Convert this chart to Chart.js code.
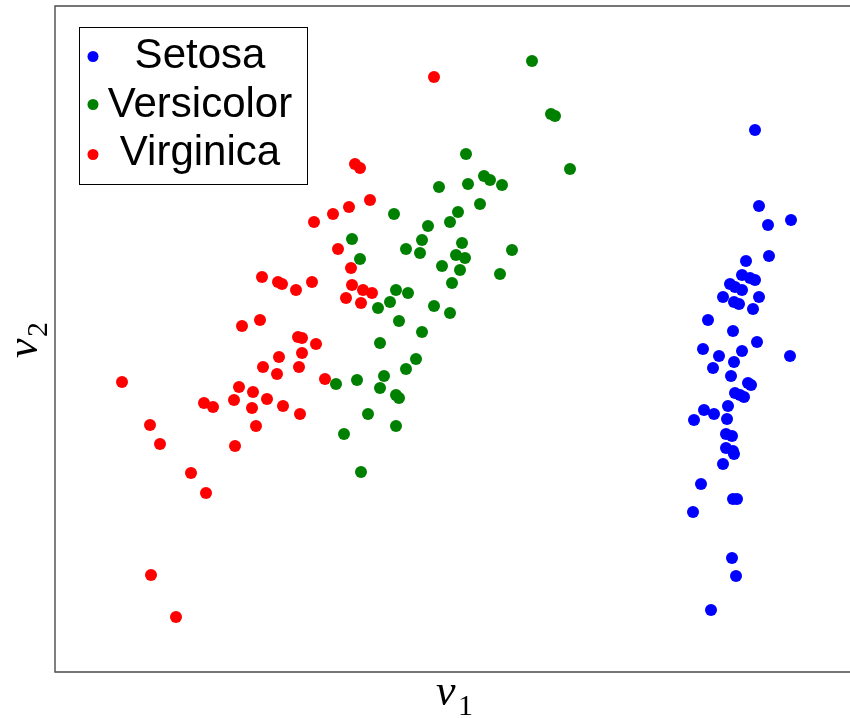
<!DOCTYPE html>
<html><head><meta charset="utf-8">
<script src="https://cdn.jsdelivr.net/npm/chart.js@4.4.0/dist/chart.umd.min.js"></script>
<style>html,body{margin:0;padding:0;background:#fff;}#wrap{width:850px;height:718px;position:relative;}</style>
</head><body><div id="wrap"><canvas id="c"></canvas></div>
<script>
const seriesNames = ['Setosa', 'Versicolor', 'Virginica'];
const seriesColors = ['#0000ff', '#008000', '#ff0000'];

const setosaV1 = [700,704,713,736,714,691,687,695,700,675,680,687,668,704,679,684,698,653,678,702,735,648,664,687,679,658,676,693,696,680,685,689,673,649,659,639,672,671,677,671,678,679,668,646,678,682,638,677,681,656];
const setosaV2 = [542,466,447,452,416,411,397,394,392,388,385,382,375,375,370,368,363,352,341,330,316,323,316,321,310,304,296,289,287,279,277,275,266,262,258,252,253,238,236,224,221,218,208,188,173,173,160,114,96,62];

const versicolorV1 = [477,496,500,515,411,384,413,429,435,447,425,403,395,373,339,367,297,351,365,407,401,410,387,405,457,445,305,397,341,353,335,323,379,395,344,367,325,361,351,329,302,281,325,341,344,313,341,289,306];
const versicolorV2 = [611,558,556,503,518,485,488,496,492,487,468,460,450,446,458,432,433,423,419,429,417,414,406,402,422,398,413,389,382,379,370,364,366,359,351,340,329,313,303,296,292,288,284,277,274,258,246,238,200];

const virginicaV1 = [379,300,305,315,294,278,259,283,296,207,223,227,241,257,297,308,317,291,306,187,205,243,247,261,247,224,208,244,222,270,67,184,198,212,179,149,158,197,228,245,95,201,105,180,136,151,96,121];
const virginicaV2 = [595,508,504,472,465,458,450,423,404,395,390,388,382,390,387,382,379,374,369,346,352,335,334,328,319,315,305,305,298,293,290,285,280,273,272,269,265,264,266,258,247,246,228,226,199,179,97,55];

const xRange = [0, 795];
const yRange = [0, 666];

function pts(xs, ys) { return xs.map((x, i) => ({x: x, y: ys[i]})); }
const allX = [setosaV1, versicolorV1, virginicaV1];
const allY = [setosaV2, versicolorV2, virginicaV2];

const datasets = seriesNames.map((name, i) => ({
  label: name,
  data: pts(allX[i], allY[i]),
  backgroundColor: seriesColors[i],
  borderWidth: 0,
  pointRadius: 6,
  pointHoverRadius: 6,
  order: 3 - i
}));

const framePlugin = {
  id: 'frame',
  afterDatasetsDraw(chart) {
    const {ctx, chartArea: a} = chart;
    ctx.save();
    ctx.strokeStyle = '#4a4a4a';
    ctx.lineWidth = 1.4;
    ctx.beginPath();
    ctx.moveTo(chart.width + 2, a.top);
    ctx.lineTo(a.left, a.top);
    ctx.lineTo(a.left, a.bottom);
    ctx.lineTo(chart.width + 2, a.bottom);
    ctx.stroke();
    ctx.restore();
  }
};

const legendPlugin = {
  id: 'boxLegend',
  afterDatasetsDraw(chart) {
    const ctx = chart.ctx;
    ctx.save();
    const bx = 79.5, by = 27.5, bw = 228, bh = 157;
    ctx.fillStyle = '#fff';
    ctx.fillRect(bx, by, bw, bh);
    ctx.strokeStyle = '#000';
    ctx.lineWidth = 1;
    ctx.strokeRect(bx, by, bw, bh);
    const baselines = [68, 117, 165];
    const dotY = [56.5, 104.5, 154.5];
    ctx.font = '42px "Liberation Sans", Arial, sans-serif';
    ctx.textAlign = 'center';
    ctx.textBaseline = 'alphabetic';
    seriesNames.forEach((n, i) => {
      ctx.fillStyle = seriesColors[i];
      ctx.beginPath();
      ctx.arc(93, dotY[i], 5.5, 0, Math.PI * 2);
      ctx.fill();
      ctx.fillStyle = '#000';
      ctx.fillText(n, 200, baselines[i]);
    });
    ctx.restore();
  }
};

const axisLabelPlugin = {
  id: 'axisLabels',
  afterDraw(chart) {
    const ctx = chart.ctx;
    ctx.save();
    ctx.fillStyle = '#000';
    ctx.textBaseline = 'alphabetic';
    ctx.textAlign = 'left';
    // x label
    ctx.font = 'italic 44px "Liberation Serif", "DejaVu Serif", serif';
    ctx.fillText('v', 436, 705);
    ctx.font = '30px "Liberation Serif", "DejaVu Serif", serif';
    ctx.fillText('1', 458, 715);
    // y label
    ctx.translate(37, 358);
    ctx.rotate(-Math.PI / 2);
    ctx.font = 'italic 44px "Liberation Serif", "DejaVu Serif", serif';
    ctx.fillText('v', 0, 0);
    ctx.font = '30px "Liberation Serif", "DejaVu Serif", serif';
    ctx.fillText('2', 21, 10);
    ctx.restore();
  }
};

new Chart(document.getElementById('c'), {
  type: 'scatter',
  data: { datasets: datasets },
  options: {
    responsive: true,
    maintainAspectRatio: false,
    animation: false,
    layout: { autoPadding: false, padding: { left: 55, top: 6, right: 0, bottom: 46 } },
    plugins: { legend: { display: false }, tooltip: { enabled: false } },
    scales: {
      x: { type: 'linear', display: false, min: xRange[0], max: xRange[1] },
      y: { type: 'linear', display: false, min: yRange[0], max: yRange[1] }
    }
  },
  plugins: [framePlugin, legendPlugin, axisLabelPlugin]
});
</script>
</body></html>
